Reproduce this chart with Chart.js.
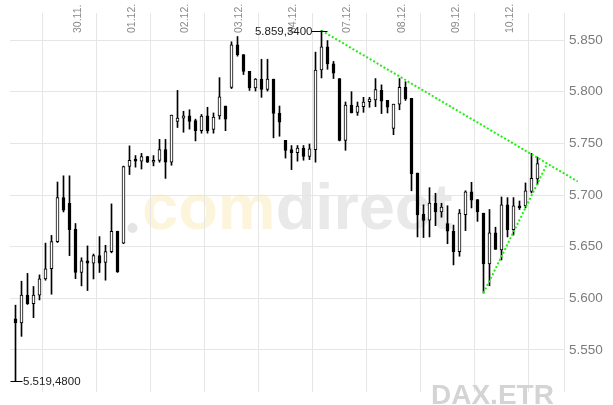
<!DOCTYPE html>
<html>
<head>
<meta charset="utf-8">
<script src="https://cdn.jsdelivr.net/npm/chart.js@4.4.0/dist/chart.umd.min.js"></script>
<style>
html, body { margin: 0; padding: 0; background: #fff; }
#wrap { width: 613px; height: 405px; }
</style>
</head>
<body>
<div id="wrap"><canvas id="daxChart" width="613" height="405"></canvas></div>
<script>
// DAX.ETR Stundenkerzen 27.11. - 10.12.
const opens = [5580, 5576.1, 5603, 5594.8, 5603, 5618.7, 5628.6, 5654.9, 5697.5,
    5692, 5667, 5625, 5636.2, 5634.1, 5641.3, 5634.6, 5645.2, 5664.9,
    5653.4, 5727.6, 5734.9, 5732.7, 5737.3, 5731.8, 5733.6, 5743.9, 5731.8,
    5771.4, 5774.4, 5776.8, 5772, 5762.3, 5776.8, 5763.5, 5776.5, 5786.2,
    5804.3, 5845.4, 5836, 5819.7, 5803.7, 5812.2, 5802.2, 5812.2, 5779,
    5753, 5743.9, 5740.9, 5745.4, 5737.3, 5743.9, 5821.2, 5843.5, 5827,
    5812.8, 5753, 5787.1, 5780.1, 5785.6, 5790.4, 5792.2, 5801.3, 5791.6,
    5764.4, 5788, 5804.3, 5793.7, 5721.3, 5681.4, 5675.7, 5692, 5683.6,
    5672.4, 5664.9, 5645.2, 5680.9, 5703.2, 5695.6, 5682.4, 5633.2, 5663.4,
    5646.8, 5690.5, 5666.4, 5689.6, 5689.6, 5703.5, 5715.6];
const highs = [5593.3, 5616.5, 5624.1, 5611.4, 5622.6, 5653.4, 5660.9, 5712.6, 5718.6,
    5718.6, 5672.4, 5639.2, 5650.7, 5642.8, 5659.7, 5651.3, 5691.4, 5665,
    5728, 5747.6, 5738.2, 5740.3, 5737.5, 5738.2, 5753.9, 5753.9, 5777.4,
    5801.3, 5781.1, 5782.6, 5773.5, 5778, 5785, 5779.5, 5813.7, 5786.2,
    5848.4, 5853.5, 5836, 5819.7, 5812.8, 5831.5, 5831.5, 5812.2, 5786.2,
    5753, 5747.9, 5747.9, 5747.9, 5749.4, 5838.4, 5859.34, 5849.6, 5829.4,
    5812.8, 5790.1, 5800.1, 5790.1, 5794.6, 5794.6, 5812.8, 5806.7, 5791.6,
    5788, 5812.8, 5809.7, 5793.7, 5721.3, 5690.5, 5707.1, 5701.7, 5692,
    5689.6, 5670.9, 5686, 5704.1, 5712.3, 5695.6, 5682.4, 5686, 5668.8,
    5698.1, 5697.5, 5697.5, 5694.2, 5711.7, 5740.3, 5736.7];
const lows = [5519.48, 5563.1, 5594, 5581.2, 5598.4, 5617.5, 5603.9, 5654, 5683.6,
    5641.3, 5619, 5612, 5607.5, 5618.7, 5625, 5617.5, 5644, 5625,
    5652.8, 5719.8, 5727, 5725.2, 5731.5, 5728.2, 5731.8, 5716.1, 5728.8,
    5765.4, 5760.8, 5763.8, 5752.4, 5759.9, 5759.9, 5759.9, 5773.5, 5762.3,
    5803.1, 5834.5, 5816.7, 5801.3, 5800.7, 5794.6, 5800.7, 5755.4, 5756.9,
    5735.8, 5724.6, 5732.8, 5733.7, 5734.3, 5731.8, 5813.4, 5821.8, 5812.8,
    5752.4, 5743.3, 5779.5, 5777.1, 5780.1, 5785, 5785.6, 5778.9, 5779.5,
    5758.4, 5782.6, 5791.6, 5704.1, 5659.4, 5658.8, 5659.4, 5670.3, 5678.5,
    5652.8, 5632.3, 5640.7, 5665.5, 5687.5, 5674.5, 5605.1, 5612.1, 5647.4,
    5637.1, 5659.4, 5661.2, 5686, 5687.5, 5702, 5710.2];
const closes = [5576.1, 5603, 5594.8, 5603, 5618.7, 5628.6, 5654.9, 5697.5, 5685.4,
    5666.4, 5625, 5636.2, 5634.1, 5641.3, 5634.1, 5645.2, 5664.9, 5625.6,
    5727.6, 5733.7, 5732.7, 5737.3, 5731.8, 5733.6, 5743.9, 5731.8, 5777.4,
    5774.4, 5776.8, 5771.4, 5762.3, 5776.5, 5762.3, 5775.6, 5795.2, 5773.5,
    5845.4, 5836, 5819.7, 5803.7, 5812.2, 5802.2, 5812.2, 5779, 5770.5,
    5743.3, 5740.9, 5745.4, 5737.3, 5744.8, 5820.9, 5843.5, 5827, 5817.9,
    5753, 5787.1, 5779.5, 5786.2, 5790.1, 5792.8, 5802.2, 5791, 5785,
    5788, 5804.3, 5793.1, 5720.7, 5680.8, 5675.4, 5692.1, 5683.6, 5688.4,
    5664.9, 5645.2, 5682.4, 5703.2, 5695, 5683.6, 5633.2, 5663.4, 5647.4,
    5690.5, 5666.4, 5689.6, 5687.8, 5704.1, 5716.2, 5730.4];

// Handelstage: Index der ersten Kerze und Beschriftung
const dayIndex = [9, 18, 27, 36, 45, 54, 63, 72, 81];
const dayLabels = ['30.11.', '01.12.', '02.12.', '03.12.', '04.12.', '07.12.', '08.12.', '09.12.', '10.12.'];
const yTicks = [5550, 5600, 5650, 5700, 5750, 5800, 5850];

// Trendlinien (Kerzenindex / Kurs)
const resistX = [51, 93.7];
const resistY = [5859.34, 5713.1];
const supportX = [78, 88.63];
const supportY = [5605.1, 5730.5];

function fmtDE(v, dec) {
    const parts = v.toFixed(dec).split('.');
    const int = parts[0].replace(/\B(?=(\d{3})+(?!\d))/g, '.');
    return parts[1] ? int + ',' + parts[1] : int;
}

const FONT = '"Liberation Sans", Arial, sans-serif';

const wickData = opens.map((o, i) => ({ x: i, y: [lows[i], highs[i]] }));
const bodyData = opens.map((o, i) => ({ x: i, y: [o, closes[i]] }));
const bodyFill = opens.map((o, i) => closes[i] >= o ? '#ffffff' : '#000000');

// Wasserzeichen hinter dem Chart
const watermark = {
    id: 'watermark',
    beforeDraw(chart) {
        const ctx = chart.ctx;
        ctx.save();
        ctx.fillStyle = '#e4e4e4';
        ctx.beginPath();
        ctx.arc(132.5, 228, 5, 0, Math.PI * 2);
        ctx.fill();
        ctx.font = 'bold 65px ' + FONT;
        ctx.textBaseline = 'alphabetic';
        ctx.fillStyle = '#fdf4dc';
        ctx.fillText('com', 142, 229);
        const w = ctx.measureText('com').width;
        ctx.fillStyle = '#e9e9e9';
        ctx.fillText('direct', 142 + w, 229);
        ctx.restore();
    }
};

// Datumsbeschriftung senkrecht neben den Tageslinien
const dayText = {
    id: 'dayText',
    beforeDatasetsDraw(chart) {
        const ctx = chart.ctx;
        const xs = chart.scales.x;
        ctx.save();
        ctx.font = '10.5px ' + FONT;
        ctx.fillStyle = '#8a8a8a';
        ctx.textAlign = 'left';
        ctx.textBaseline = 'alphabetic';
        dayIndex.forEach((d, k) => {
            const px = Math.round(xs.getPixelForValue(d));
            ctx.save();
            ctx.translate(px + 10.5, 33);
            ctx.rotate(-Math.PI / 2);
            ctx.fillText(dayLabels[k], 0, 0);
            ctx.restore();
        });
        ctx.restore();
    }
};

// Hoch/Tief-Markierung und Titel
const marks = {
    id: 'marks',
    afterDraw(chart) {
        const ctx = chart.ctx;
        const xs = chart.scales.x, ys = chart.scales.y;
        const maxV = Math.max(...highs), minV = Math.min(...lows);
        const maxI = highs.indexOf(maxV), minI = lows.indexOf(minV);
        ctx.save();
        ctx.strokeStyle = '#000';
        ctx.lineWidth = 1;
        ctx.font = '11.5px ' + FONT;
        ctx.fillStyle = '#222';
        ctx.textBaseline = 'middle';

        let px = Math.round(xs.getPixelForValue(maxI)) + 0.5;
        let py = Math.round(ys.getPixelForValue(maxV)) + 0.5;
        ctx.beginPath();
        ctx.moveTo(px - 10, py); ctx.lineTo(px + 6, py);
        ctx.stroke();
        ctx.textAlign = 'right';
        ctx.fillText(fmtDE(maxV, 4), px - 9, py);

        px = Math.round(xs.getPixelForValue(minI)) + 0.5;
        py = Math.round(ys.getPixelForValue(minV)) + 0.5;
        ctx.beginPath();
        ctx.moveTo(px - 6, py); ctx.lineTo(px + 6, py);
        ctx.stroke();
        ctx.textAlign = 'left';
        ctx.fillText(fmtDE(minV, 4), px + 6.5, py);

        ctx.font = 'bold 28px ' + FONT;
        ctx.fillStyle = '#d4d4d4';
        ctx.textBaseline = 'alphabetic';
        ctx.textAlign = 'left';
        ctx.fillText('DAX.ETR', 431, 404);
        ctx.restore();
    }
};

new Chart(document.getElementById('daxChart'), {
    type: 'bar',
    data: {
        datasets: [{
            type: 'line',
            data: resistX.map((x, i) => ({ x: x, y: resistY[i] })),
            borderColor: '#22ee11',
            borderWidth: 2,
            borderDash: [2, 2],
            pointRadius: 0,
            clip: false,
            order: 0
        }, {
            type: 'line',
            data: supportX.map((x, i) => ({ x: x, y: supportY[i] })),
            borderColor: '#22ee11',
            borderWidth: 2,
            borderDash: [2, 2],
            pointRadius: 0,
            clip: false,
            order: 0
        }, {
            data: bodyData,
            backgroundColor: bodyFill,
            borderColor: '#000',
            borderWidth: 1,
            borderSkipped: false,
            barThickness: 3,
            minBarLength: 1,
            grouped: false,
            order: 1
        }, {
            data: wickData,
            backgroundColor: '#000',
            borderWidth: 0,
            barThickness: 1,
            grouped: false,
            order: 2
        }]
    },
    options: {
        responsive: false,
        animation: false,
        events: [],
        layout: { padding: { left: 10, top: 0, right: 0, bottom: 0 } },
        plugins: { legend: { display: false }, tooltip: { enabled: false } },
        scales: {
            x: {
                type: 'linear',
                offset: false,
                min: -5.5 / 6,
                max: 548.5 / 6,
                afterBuildTicks: s => { s.ticks = dayIndex.map(v => ({ value: v })); },
                afterFit: s => { s.height = 0; },
                ticks: { display: false },
                grid: { color: '#e6e6e6', drawTicks: false },
                border: { display: false }
            },
            y: {
                position: 'right',
                min: 5509.3,
                max: 5876.2,
                afterBuildTicks: s => { s.ticks = yTicks.map(v => ({ value: v })); },
                afterFit: s => { s.width = 49; },
                ticks: {
                    padding: 5,
                    color: '#7c7c7c',
                    font: { family: FONT, size: 13.5 },
                    callback: v => fmtDE(v, 0)
                },
                grid: { color: '#e6e6e6', drawTicks: false },
                border: { display: true, color: '#e6e6e6' }
            }
        }
    },
    plugins: [watermark, dayText, marks]
});
</script>
</body>
</html>
